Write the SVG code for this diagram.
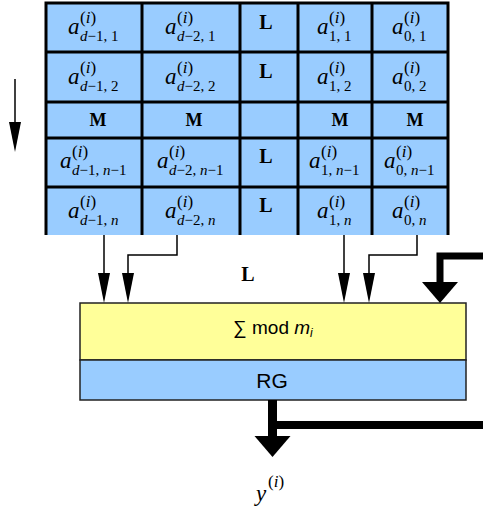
<svg xmlns="http://www.w3.org/2000/svg" width="483" height="509" viewBox="0 0 483 509">
<style>
.a{font-family:"Liberation Serif",serif;font-style:italic;font-size:23px;fill:#000}
.s{font-family:"Liberation Serif",serif;font-size:15px;fill:#000}
.p{font-family:"Liberation Serif",serif;font-size:17px;fill:#000}
.it{font-style:italic}
.dots{font-family:"Liberation Serif",serif;font-weight:bold;font-size:20px;fill:#000;text-anchor:middle}
.mm{font-family:"Liberation Serif",serif;font-weight:bold;font-size:18px;fill:#000;text-anchor:middle}
.grid{stroke:#000;stroke-width:3;fill:none}
.thin{stroke:#000;stroke-width:1.5;fill:none}
.thick{stroke:#000;fill:none;stroke-linejoin:miter}
.box{stroke:#222;stroke-width:1.5}
.sans{font-family:"Liberation Sans",Arial,sans-serif;fill:#000;text-anchor:middle}
</style>
<defs>
<polygon id="head" points="-6,0 6,0 0,30" fill="#000"/>
<polygon id="bighead" points="-18,0 18,0 0,21" fill="#000"/>
</defs>

<g id="matrix">
<rect x="46" y="3" width="402" height="232" fill="#99ccff"/>
<path class="grid" d="M46 235V3H448V235M142 3V235M240 3V235M298 3V235M372 3V235M46 52H448M46 102H448M46 138H448M46 187H448"/>

<g id="r1">
<text class="a" x="68" y="34">a</text><text class="p" x="80" y="23">(<tspan class="it">i</tspan>)</text><text class="s" x="80" y="41"><tspan class="it">d</tspan>−1, 1</text>
<text class="a" x="165" y="34">a</text><text class="p" x="177" y="23">(<tspan class="it">i</tspan>)</text><text class="s" x="177" y="41"><tspan class="it">d</tspan>−2, 1</text>
<text class="dots" x="266" y="29">L</text>
<text class="a" x="317" y="34">a</text><text class="p" x="329" y="23">(<tspan class="it">i</tspan>)</text><text class="s" x="329" y="41">1, 1</text>
<text class="a" x="392" y="34">a</text><text class="p" x="404" y="23">(<tspan class="it">i</tspan>)</text><text class="s" x="404" y="41">0, 1</text>
</g>
<g id="r2">
<text class="a" x="68" y="84">a</text><text class="p" x="80" y="73">(<tspan class="it">i</tspan>)</text><text class="s" x="80" y="91"><tspan class="it">d</tspan>−1, 2</text>
<text class="a" x="165" y="84">a</text><text class="p" x="177" y="73">(<tspan class="it">i</tspan>)</text><text class="s" x="177" y="91"><tspan class="it">d</tspan>−2, 2</text>
<text class="dots" x="266" y="78">L</text>
<text class="a" x="317" y="84">a</text><text class="p" x="329" y="73">(<tspan class="it">i</tspan>)</text><text class="s" x="329" y="91">1, 2</text>
<text class="a" x="392" y="84">a</text><text class="p" x="404" y="73">(<tspan class="it">i</tspan>)</text><text class="s" x="404" y="91">0, 2</text>
</g>
<g id="r3">
<text class="mm" x="98" y="126">M</text>
<text class="mm" x="194" y="126">M</text>
<text class="mm" x="340" y="126">M</text>
<text class="mm" x="415" y="126">M</text>
</g>
<g id="r4">
<text class="a" x="60" y="168">a</text><text class="p" x="72" y="157">(<tspan class="it">i</tspan>)</text><text class="s" x="72" y="175"><tspan class="it">d</tspan>−1, <tspan class="it">n</tspan>−1</text>
<text class="a" x="157" y="168">a</text><text class="p" x="169" y="157">(<tspan class="it">i</tspan>)</text><text class="s" x="169" y="175"><tspan class="it">d</tspan>−2, <tspan class="it">n</tspan>−1</text>
<text class="dots" x="266" y="163">L</text>
<text class="a" x="309" y="168">a</text><text class="p" x="321" y="157">(<tspan class="it">i</tspan>)</text><text class="s" x="321" y="175">1, <tspan class="it">n</tspan>−1</text>
<text class="a" x="384" y="168">a</text><text class="p" x="396" y="157">(<tspan class="it">i</tspan>)</text><text class="s" x="396" y="175">0, <tspan class="it">n</tspan>−1</text>
</g>
<g id="r5">
<text class="a" x="68" y="218">a</text><text class="p" x="80" y="207">(<tspan class="it">i</tspan>)</text><text class="s" x="80" y="225"><tspan class="it">d</tspan>−1, <tspan class="it">n</tspan></text>
<text class="a" x="165" y="218">a</text><text class="p" x="177" y="207">(<tspan class="it">i</tspan>)</text><text class="s" x="177" y="225"><tspan class="it">d</tspan>−2, <tspan class="it">n</tspan></text>
<text class="dots" x="266" y="212">L</text>
<text class="a" x="317" y="218">a</text><text class="p" x="329" y="207">(<tspan class="it">i</tspan>)</text><text class="s" x="329" y="225">1, <tspan class="it">n</tspan></text>
<text class="a" x="392" y="218">a</text><text class="p" x="404" y="207">(<tspan class="it">i</tspan>)</text><text class="s" x="404" y="225">0, <tspan class="it">n</tspan></text>
</g>
</g>

<g id="sum">
<rect class="box" x="80" y="303" width="386" height="57" fill="#ffff99"/>
<text class="sans" x="273" y="334" font-size="19">∑ mod <tspan font-style="italic">m</tspan><tspan font-style="italic" font-size="12" dy="3">i</tspan></text>
</g>
<g id="rg">
<rect class="box" x="80" y="360" width="386" height="40" fill="#99ccff"/>
<text class="sans" x="272" y="388" font-size="21">RG</text>
</g>
<g id="ylabel">
<text class="a" x="256" y="501">y</text><text class="p" x="268" y="487">(<tspan class="it">i</tspan>)</text>
</g>
<g id="dotslabel">
<text class="dots" x="248" y="281">L</text>
</g>

<g id="connectors">
<path class="thin" d="M15 79V122" stroke-width="2"/>
<use href="#head" x="15" y="122"/>
<path class="thin" d="M104 235V274"/>
<use href="#head" x="104" y="273"/>
<path class="thin" d="M177 235V255H128V274"/>
<use href="#head" x="128" y="273"/>
<path class="thin" d="M344 235V274"/>
<use href="#head" x="344" y="273"/>
<path class="thin" d="M417 235V255H369V274"/>
<use href="#head" x="369" y="273"/>
<path class="thick" stroke-width="7" d="M483 256H440V283"/>
<use href="#bighead" x="440" y="282"/>
<path class="thick" stroke-width="9" d="M272.5 400V437"/>
<path class="thick" stroke-width="8" d="M272 425H483"/>
<use href="#bighead" x="272.5" y="436"/>
</g>
</svg>
